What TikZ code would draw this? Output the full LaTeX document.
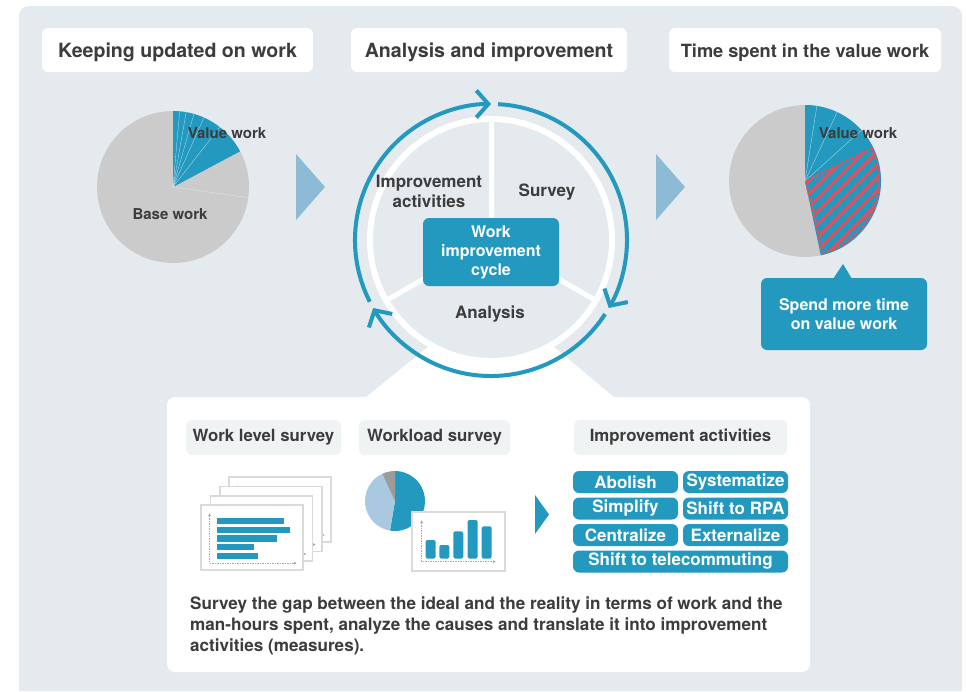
\documentclass[tikz,border=0pt]{standalone}
\usepackage{fontspec}
\setmainfont{TeX Gyre Heros}
\usetikzlibrary{arrows.meta}
\definecolor{bgpanel}{HTML}{E4EAED}
\definecolor{cblue}{HTML}{2399BF}
\definecolor{clight}{HTML}{8DBAD5}
\definecolor{pgray}{HTML}{CBCBCB}
\definecolor{lbox}{HTML}{F0F3F4}
\definecolor{txt}{HTML}{3C3C3C}
\definecolor{cred}{HTML}{E2505E}
\definecolor{lblue}{HTML}{A8C9DF}
\definecolor{dgray}{HTML}{9B9B9B}
\definecolor{pageline}{HTML}{DADADA}
\definecolor{axisgray}{HTML}{AAAAAA}
\begin{document}
\begin{tikzpicture}[x=1pt,y=-1pt,text=txt,
  titlebox/.style={fill=white, rounded corners=6pt, inner sep=0pt, minimum height=44pt, text height=14pt, text depth=0pt, font=\fontsize{19.6}{22}\selectfont\bfseries},
  pielbl/.style={inner sep=0pt, font=\fontsize{15}{18}\selectfont\bfseries},
  cyclbl/.style={inner sep=0pt, align=center, font=\fontsize{17}{20}\selectfont\bfseries},
  bluebox/.style={fill=cblue, rounded corners=6pt, text=white, inner sep=0pt, align=center, font=\fontsize{16}{19}\selectfont\bfseries},
  graybox/.style={fill=lbox, rounded corners=6pt, inner sep=0pt, minimum height=35pt, font=\fontsize{16.8}{19}\selectfont\bfseries},
  btn/.style={fill=cblue, rounded corners=6pt, text=white, inner sep=0pt, minimum height=22pt, font=\fontsize{17}{19}\selectfont\bfseries},
  ring/.style={draw=cblue, line width=4pt, -{Straight Barb[length=12pt,width=27pt]}},
  pagebox/.style={fill=white, draw=pageline, line width=1.2pt},
  axisline/.style={draw=axisgray, line width=0.6pt, dash pattern=on 1.5pt off 1pt, {Latex[length=3pt,width=3pt]}-{Latex[length=3pt,width=3pt]}}
]
\useasboundingbox (0,0) rectangle (966,691);
% background panel
\fill[bgpanel, rounded corners=10pt] (19,691) -- (19,6) -- (962,6) -- (962,691);

% titles
\node[titlebox, minimum width=271pt] (t1) at (177.5,50) {Keeping updated on work};
\node[titlebox, minimum width=276pt] (t2) at (489,50) {Analysis and improvement};
\node[titlebox, minimum width=272pt, font=\fontsize{18.2}{22}\selectfont\bfseries] (t3) at (805,50) {Time spent in the value work};

% left pie
\begin{scope}[shift={(173,187)}, yscale=-1]
  \fill[pgray] (0,0) circle[radius=76];
  \fill[cblue] (0,0) -- (28:76) arc[start angle=28,end angle=90,radius=76] -- cycle;
  \foreach \a in {85,80,74,66,52} \draw[white, line width=0.4pt, opacity=0.6] (0,0) -- (\a:76);
  \draw[white, line width=0.5pt, opacity=0.4] (0,0) -- (-8:76);
\end{scope}
\node[pielbl] (vw1) at (227,133) {Value work};
\node[pielbl] (bw) at (170,214) {Base work};

% light arrows
\fill[clight] (296,154) -- (296,220) -- (325,187) -- cycle;
\fill[clight] (656,154) -- (656,220) -- (685,187) -- cycle;

% white wedge toward bottom panel
\fill[white] (428,347) -- (554,347) -- (615,398) -- (365,398) -- cycle;

% cycle
\begin{scope}[shift={(491,240)}, yscale=-1]
  \fill[bgpanel] (0,0) circle[radius=121];
  \draw[white, line width=6pt] (0,0) circle[radius=121];
  \foreach \a in {90,210,-30} \draw[white, line width=5pt] (0,0) -- (\a:121);
  \draw[ring] (207:136) arc[start angle=207,end angle=90,radius=136];
  \draw[ring] (87:136) arc[start angle=87,end angle=-30,radius=136];
  \draw[ring] (-33:136) arc[start angle=-33,end angle=-150,radius=136];
\end{scope}
\node[bluebox, minimum width=136pt, minimum height=68pt] (wic) at (491,252) {Work\\improvement\\cycle};
\node[cyclbl] (ia) at (429,191) {Improvement\\activities};
\node[cyclbl] (sv) at (547,192) {Survey};
\node[cyclbl] (an) at (490,314) {Analysis};

% right pie
\begin{scope}[shift={(805,181)}, yscale=-1]
  \fill[pgray] (0,0) circle[radius=76];
  \fill[cblue] (0,0) -- (-78:76) arc[start angle=-78,end angle=90,radius=76] -- cycle;
  \foreach \a in {81,65,42} \draw[white, line width=0.4pt, opacity=0.6] (0,0) -- (\a:76);
  \begin{scope}
    \clip (1,0) -- (26:74) arc[start angle=26,end angle=-76,radius=74] -- cycle;
    \foreach \b in {-160,-147,...,60} \draw[cred, line width=3pt] (-20,\b-20) -- (100,\b+100);
  \end{scope}
  \draw[cred, line width=2.5pt, dash pattern=on 3pt off 2.5pt] (1,0) -- (26:74) arc[start angle=26,end angle=-76,radius=74] -- cycle;
\end{scope}
\node[pielbl] (vw2) at (858,133) {Value work};

% callout
\fill[cblue] (833,279) -- (843,264) -- (852,279) -- cycle;
\node[bluebox, minimum width=166pt, minimum height=72pt] (sm) at (844,314) {Spend more time\\on value work};

% bottom panel
\fill[white, rounded corners=8pt] (167,397) rectangle (810,672);
\node[graybox, minimum width=155pt] (wls) at (263.5,437.5) {Work level survey};
\node[graybox, minimum width=151pt] (wls2) at (434.5,437.5) {Workload survey};
\node[graybox, minimum width=213pt] (iah) at (680.5,437.5) {Improvement activities};

% stacked pages
\foreach \px/\py in {229/477, 220/486.5, 210.5/496, 201/505} {
  \filldraw[pagebox] (\px,\py) rectangle ++(102,65);
  \draw[axisline] (\px+8.5,\py+8) -- (\px+8.5,\py+58) -- (\px+96,\py+58);
}
\foreach \y/\xe in {517.5/284, 526.5/289.5, 535.3/277, 544/254, 552.7/258}
  \fill[cblue] (216.5,\y) rectangle (\xe,\y+6.2);

% small pie
\begin{scope}[shift={(395,501)}, yscale=-1]
  \fill[cblue] (0,0) -- (-99.5:30) arc[start angle=-99.5,end angle=90,radius=30] -- cycle;
  \fill[lblue] (0,0) -- (115:30) arc[start angle=115,end angle=260.5,radius=30] -- cycle;
  \fill[dgray] (0,0) -- (90:30) arc[start angle=90,end angle=115,radius=30] -- cycle;
\end{scope}
% bar chart
\filldraw[pagebox] (412,512) rectangle (505,571);
\draw[axisline] (421.7,520) -- (421.7,561.7) -- (496,561.7);
\foreach \x/\t in {425.7/540, 439.3/545, 453.3/531.3, 467.7/520, 481.7/526.3}
  \fill[cblue, rounded corners=1.5pt] (\x,558.5) rectangle (\x+10,\t);

% blue arrow
\fill[cblue] (535,495) -- (535,534) -- (549,514.5) -- cycle;

% buttons
\node[btn, minimum width=105pt] (b1) at (625.5,482) {Abolish};
\node[btn, minimum width=105pt] (b2) at (735.5,482) {Systematize};
\node[btn, minimum width=105pt] (b3) at (625.5,508.5) {Simplify};
\node[btn, minimum width=105pt] (b4) at (735.5,508.5) {Shift to RPA};
\node[btn, minimum width=105pt] (b5) at (625.5,535) {Centralize};
\node[btn, minimum width=105pt] (b6) at (735.5,535) {Externalize};
\node[btn, minimum width=215pt] (b7) at (680.5,561.5) {Shift to telecommuting};

% description
\node[anchor=north west, align=left, inner sep=0pt, font=\fontsize{17.1}{21}\selectfont\bfseries] (desc) at (190,597)
  {Survey the gap between the ideal and the reality in terms of work and the\\man-hours spent, analyze the causes and translate it into improvement\\activities (measures).};
\end{tikzpicture}
\end{document}
